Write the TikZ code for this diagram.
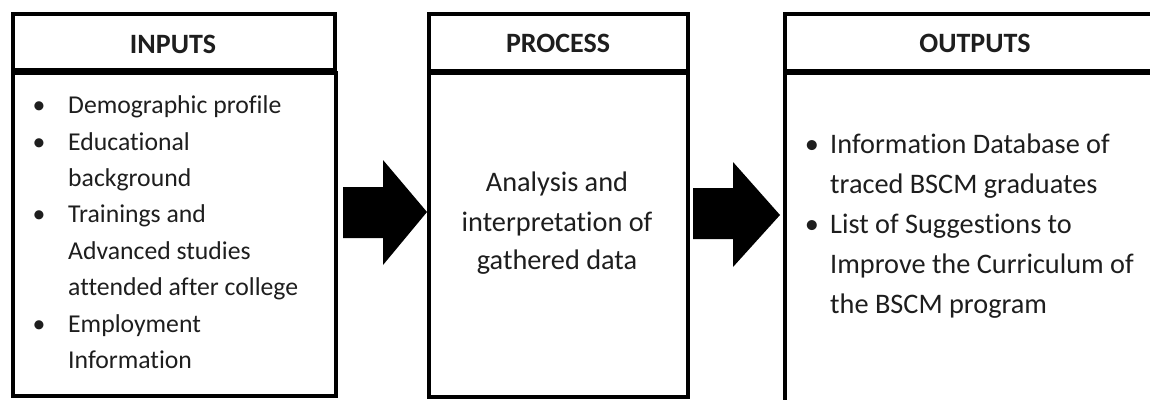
\documentclass[tikz,border=0pt]{standalone}
\usepackage{fontspec}
\setmainfont{Carlito}[Ligatures={NoCommon}]
\definecolor{txt}{HTML}{1E1E1E}
\begin{document}
\begin{tikzpicture}[x=1pt,y=-1pt,
  boxline/.style={draw=black,line width=4pt},
  hdr/.style={font=\fontsize{28}{34}\selectfont\bfseries,text=txt,anchor=base,inner sep=0pt},
  inp/.style={font=\fontsize{25.7}{30}\selectfont,text=txt,anchor=base west,inner sep=0pt},
  big/.style={font=\fontsize{28.3}{34}\selectfont,text=txt,anchor=base west,inner sep=0pt},
  bigc/.style={font=\fontsize{28.3}{34}\selectfont,text=txt,anchor=base,inner sep=0pt},
  blk/.style={fill=black,draw=none}]
\clip (0,0) rectangle (1150,399);
\fill[white] (0,0) rectangle (1150,399);
% boxes
\draw[boxline] (12.5,14) rectangle (334.5,70);
\draw[boxline] (12.5,73) rectangle (335.5,395.5);
\draw[boxline] (428.5,14) rectangle (687.5,71);
\draw[boxline] (428.5,73) rectangle (687.5,397);
\draw[boxline] (784.5,14) rectangle (1160,71);
\draw[boxline] (784.5,73) rectangle (1160,410);
% headers
\node[hdr] (hin) at (173,53) {INPUTS};
\node[hdr] (hpr) at (558,52) {PROCESS};
\node[hdr] (hout) at (975,52) {OUTPUTS};
% inputs
\foreach \y in {113,150,222,332}{\node[inp,anchor=base] at (39,\y) {•};}
\node[inp] (i1) at (68,113) {Demographic profile};
\node[inp] (i2) at (68,150) {Educational};
\node[inp] (i3) at (68,186) {background};
\node[inp] (i4) at (68,222) {Trainings and};
\node[inp] (i5) at (68,259) {Advanced studies};
\node[inp] (i6) at (68,295) {attended after college};
\node[inp] (i7) at (68,332) {Employment};
\node[inp] (i8) at (68,368) {Information};
% process
\node[bigc] (p1) at (557,191.5) {Analysis and};
\node[bigc] (p2) at (557,231) {interpretation of};
\node[bigc] (p3) at (557,269.5) {gathered data};
% outputs
\foreach \y in {153,233}{\node[big,anchor=base] at (812,\y) {•};}
\node[big] (o1) at (830,153) {Information Database of};
\node[big] (o2) at (830,193) {traced BSCM graduates};
\node[big] (o3) at (830,233) {List of Suggestions to};
\node[big] (o4) at (830,273) {Improve the Curriculum of};
\node[big] (o5) at (830,313) {the BSCM program};
% arrows
\fill[blk] (343,187) -- (383,187) -- (383,160) -- (427,212) -- (383,265) -- (383,238) -- (343,238) -- cycle;
\fill[blk] (693,188) -- (733,188) -- (733,162) -- (780,215) -- (733,267) -- (733,239) -- (693,239) -- cycle;
\end{tikzpicture}
\end{document}
